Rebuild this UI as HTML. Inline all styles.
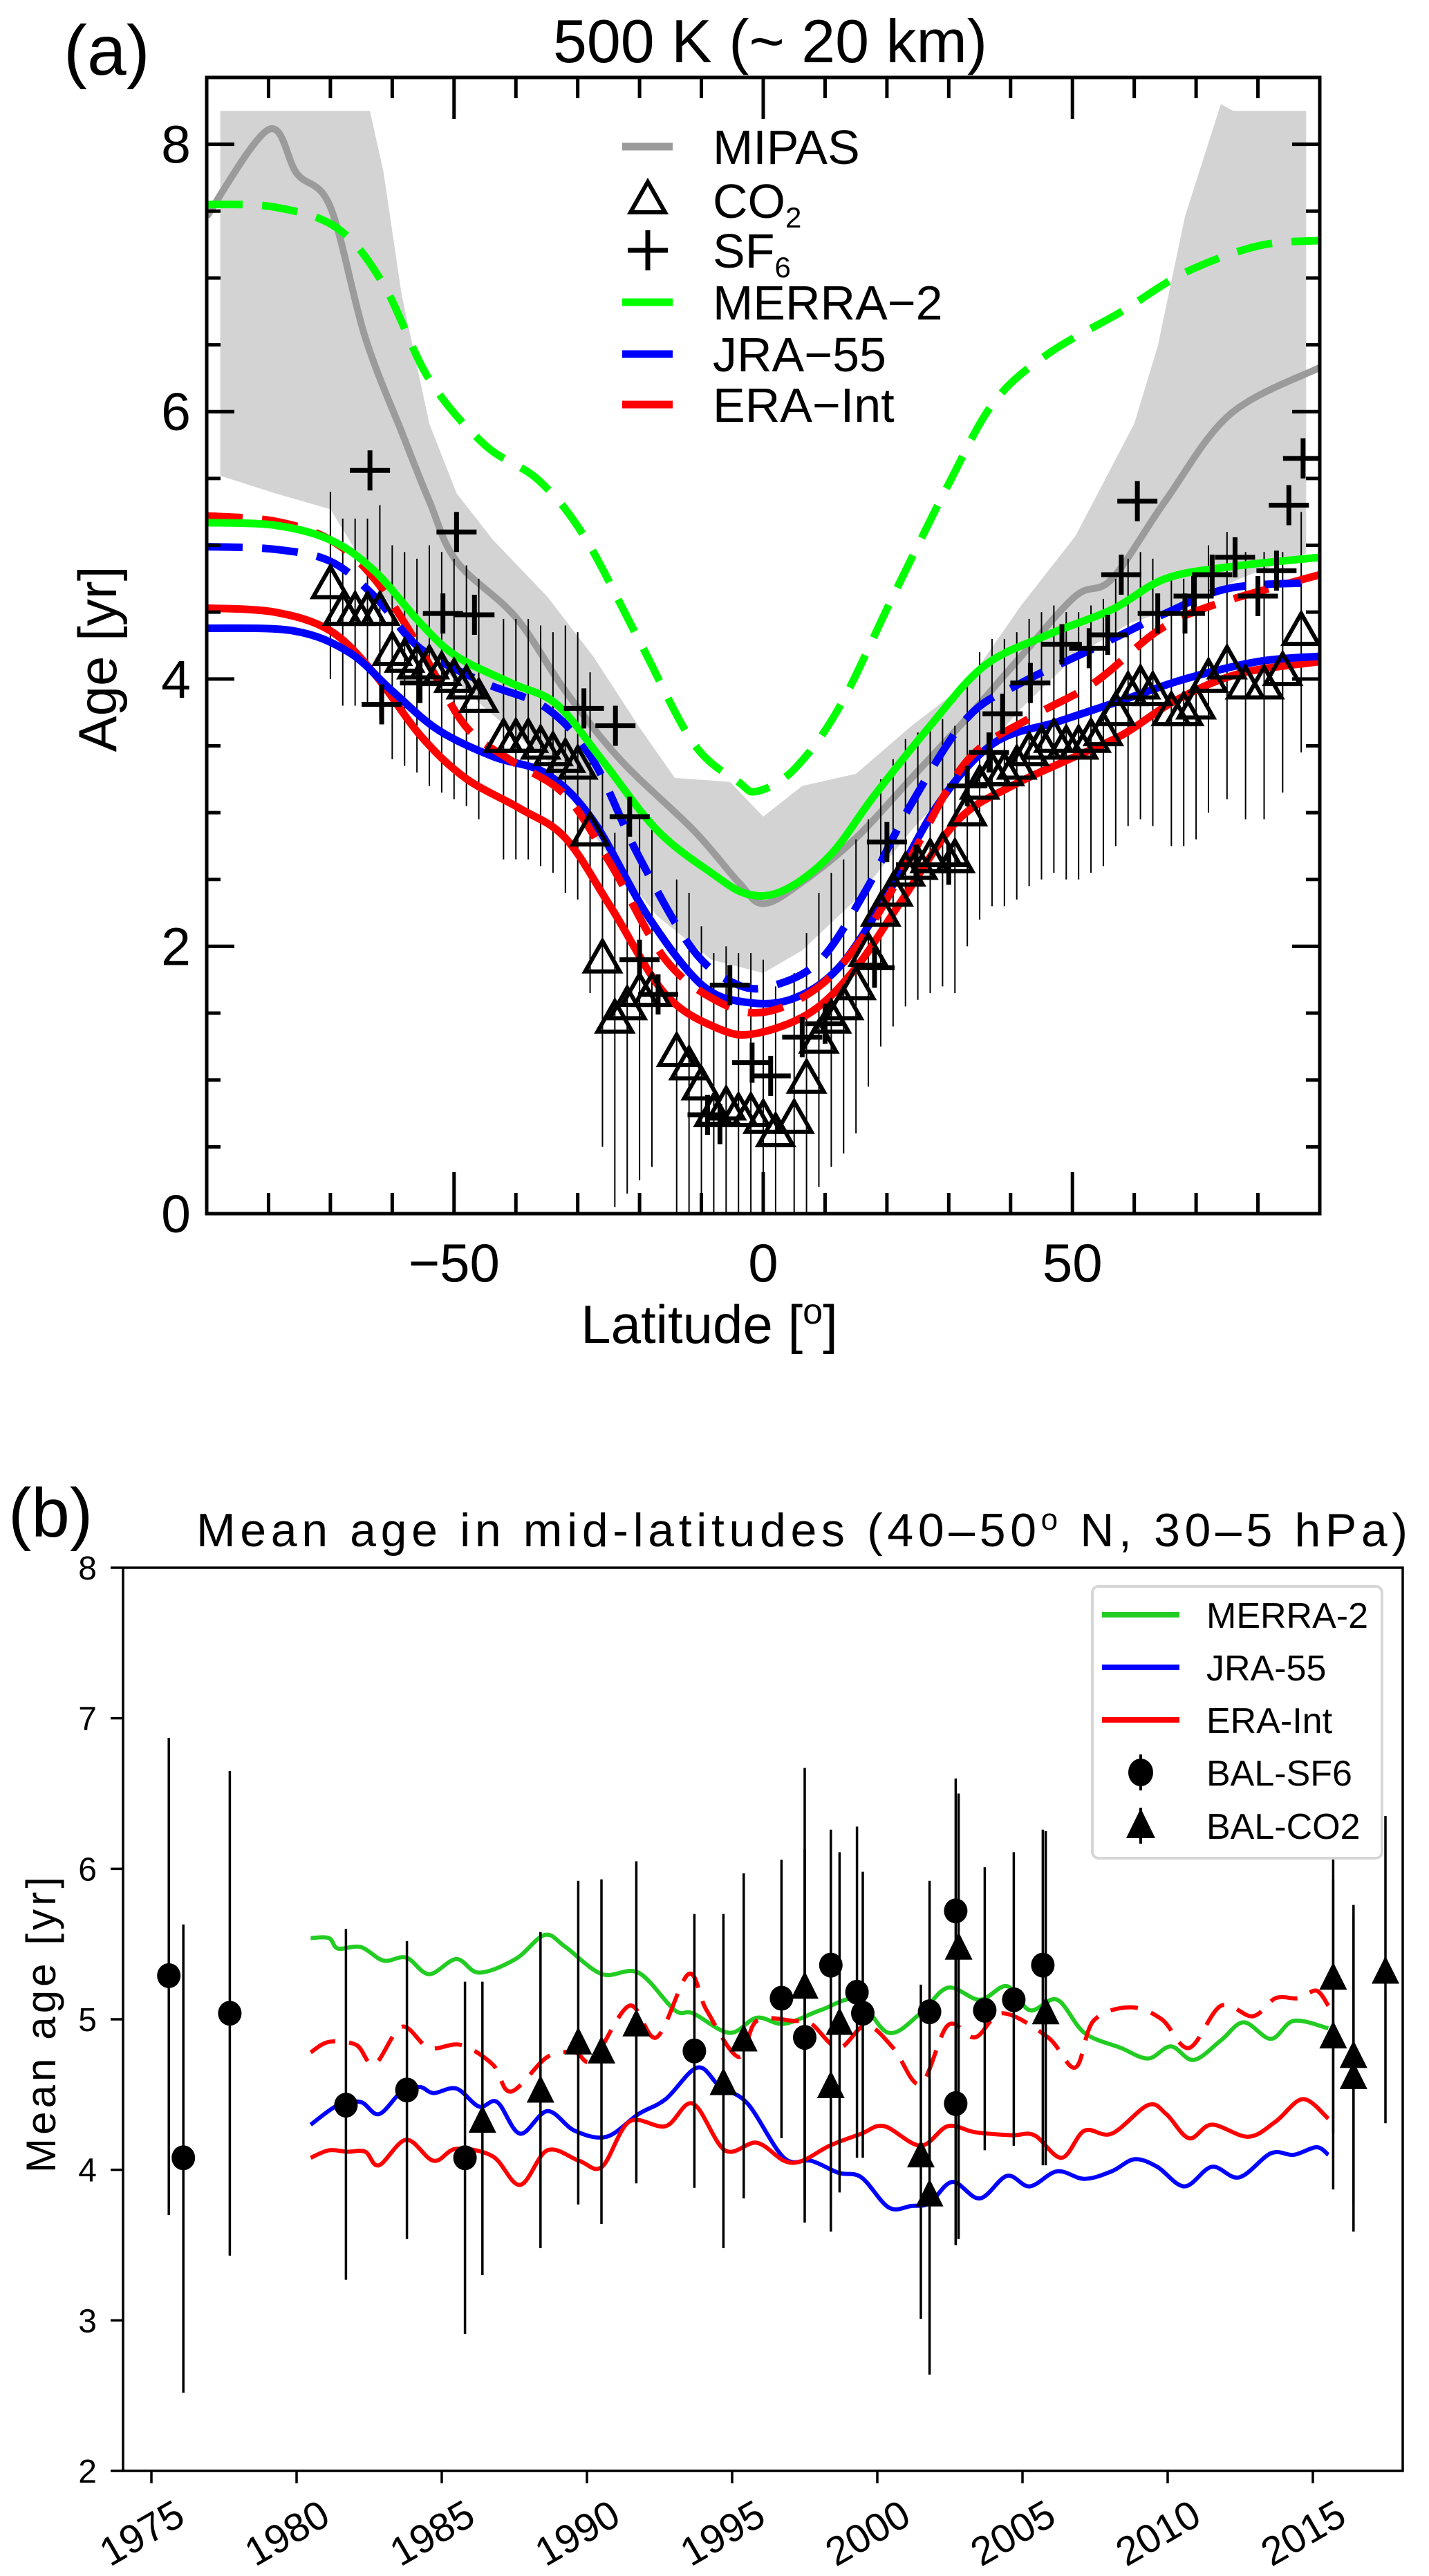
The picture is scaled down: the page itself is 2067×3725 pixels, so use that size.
<!DOCTYPE html>
<html><head><meta charset="utf-8"><style>
html,body{margin:0;padding:0;background:#fff;}
svg{display:block;font-family:"Liberation Sans",Arial,sans-serif;}
</style></head><body>
<svg id="fig" width="2067" height="3725" viewBox="0 0 2067 3725" xmlns="http://www.w3.org/2000/svg">
<g id="pa"></g>
<g id="pb"></g>
</svg>
<script>
// ===== Panel (a) data =====
const mipasLat=[-90,-80,-75.4,-70,-64.4,-58.5,-54,-49.6,-40,-32,-23,-11.3,-4,0,6.3,15,24,33,41.7,50.5,56.4,65,75.5,90];
const mipasAge=[7.46,8.11,7.78,7.53,6.56,5.85,5.33,4.88,4.46,3.91,3.39,2.87,2.48,2.32,2.48,2.81,3.26,3.71,4.17,4.62,4.75,5.33,5.98,6.33];
const bandUpLat=[-87.8,-63.6,-61.4,-58.5,-54,-49.6,-43.7,-35,-27.5,-20.2,-14.3,-5.4,0,6.3,15,24,33,41.7,50.5,60,63.8,68.2,74,76,87.8];
const bandUpAge=[8.25,8.25,7.79,6.88,5.91,5.39,5.04,4.62,4.17,3.65,3.26,3.23,2.97,3.2,3.29,3.65,3.97,4.55,5.07,5.91,6.49,7.46,8.3,8.25,8.25];
const bandLoLat=[-87.8,-79,-70,-61.4,-54,-45,-35,-26,-17.2,-8.4,0,6.3,15,24,33,41.7,50.5,59.4,68.2,77,87.8];
const bandLoAge=[5.52,5.39,5.27,4.62,4.17,3.78,3.39,2.74,2.23,1.9,1.8,1.97,2.35,2.87,3.32,3.78,4.17,4.42,4.55,4.75,4.94];
const merDashLat=[-90,-79,-68.8,-61.4,-54,-45,-36.4,-29,-20.2,-11.3,-4,-1,4.9,12.2,21,30,37.3,46,58,68.2,80,90];
const merDashAge=[7.55,7.53,7.37,6.95,6.24,5.75,5.49,5.07,4.3,3.52,3.23,3.16,3.32,3.78,4.62,5.46,6.07,6.43,6.75,7.04,7.24,7.28];
const merSolLat=[-90,-79,-70,-62.9,-55.5,-49.6,-40.8,-33.4,-26,-17.2,-8.4,-2.5,3.4,10.8,18,27,35.8,46,56.4,65,75.5,90];
const merSolAge=[5.17,5.15,5.04,4.81,4.42,4.17,3.97,3.81,3.39,2.87,2.55,2.39,2.42,2.68,3.13,3.65,4.1,4.33,4.52,4.75,4.84,4.91];
const jraDashLat=[-90,-79,-70,-62.9,-55.5,-45,-35,-27.5,-20.2,-11.3,-4,1.9,9.3,16.6,24,33,41.7,53.5,65,75.5,90];
const jraDashAge=[4.99,4.97,4.88,4.62,4.23,3.97,3.78,3.39,2.68,1.97,1.71,1.71,1.9,2.42,3.07,3.71,3.97,4.23,4.49,4.68,4.72];
const jraSolLat=[-90,-76,-67,-60,-52.6,-43.7,-35,-27.5,-18.7,-9.9,-2.5,4.9,12.2,19.6,28.4,37.3,47.6,58,68.2,80,90];
const jraSolAge=[4.38,4.36,4.2,3.91,3.62,3.42,3.29,2.94,2.23,1.71,1.58,1.61,1.84,2.35,3.07,3.52,3.68,3.84,4.0,4.13,4.17];
const eraDashLat=[-90,-79,-70,-62.9,-55.5,-48.2,-40.8,-32,-24.6,-15.8,-7,0.5,9.3,16.6,24,33,43.2,53.5,63.8,72.6,90];
const eraDashAge=[5.22,5.18,5.04,4.75,4.23,3.65,3.39,3.13,2.61,1.9,1.58,1.51,1.71,2.1,2.68,3.39,3.71,3.97,4.36,4.55,4.78];
const eraSolLat=[-90,-79,-70,-62.9,-55.5,-48.2,-39.3,-32,-24.6,-15.8,-7,-1,7.8,15,22.5,31.4,40.2,49,58,66.7,77,90];
const eraSolAge=[4.53,4.5,4.36,4.04,3.58,3.26,3.03,2.81,2.29,1.64,1.38,1.35,1.51,1.84,2.35,2.94,3.2,3.39,3.58,3.84,4.04,4.13];
const co2Lat=[-70,-68,-66,-64,-62,-60,-58,-56,-54,-52,-50,-48,-46,-42,-40,-38,-36,-34,-32,-30,-28,-26,-24,-22,-20,-18,-14,-12,-10,-8,-6,-4,-2,0,2,5,7,9,11,13,15,17,19,21,23,25,27,29,31,33,35,37,39,41,43,45,47,49,51,53,55,57,59,61,63,66,68,70,72,75,78,81,84,87];
const co2Age=[4.7,4.5,4.5,4.5,4.5,4.2,4.15,4.1,4.1,4.05,4.0,3.95,3.85,3.55,3.55,3.55,3.5,3.45,3.4,3.35,2.85,1.9,1.45,1.55,1.65,1.65,1.2,1.1,0.95,0.75,0.8,0.75,0.75,0.7,0.6,0.7,1.0,1.3,1.45,1.55,1.7,1.95,2.25,2.4,2.55,2.6,2.65,2.7,2.65,3.0,3.2,3.3,3.3,3.35,3.45,3.5,3.55,3.5,3.5,3.55,3.6,3.75,3.9,3.95,3.9,3.75,3.75,3.8,4.0,4.1,3.95,3.95,4.05,4.35];
const co2Err=[0.7,0.7,0.7,0.7,0.8,0.8,0.8,0.8,0.9,0.9,0.9,0.9,0.9,0.9,0.9,0.9,0.9,0.9,1.0,1.0,1.2,1.4,1.4,1.4,1.4,1.3,1.3,1.3,1.2,1.2,1.2,1.2,1.2,1.2,1.1,1.1,1.1,1.1,1.1,1.1,1.1,1.0,1.0,1.0,1.0,1.0,1.0,1.0,1.0,1.0,1.0,1.0,1.0,1.0,1.0,1.0,1.0,1.0,1.0,1.0,1.0,1.0,1.0,1.0,1.0,1.0,1.0,1.0,1.0,1.0,1.0,1.0,0.9,0.9];
const sf6Lat=[-63.6,-49.6,-51.8,-46.7,-61.7,-55.5,-29,-23.9,-21.6,-20,-17,-7,-9,-5.4,-1.8,1.2,6.3,10,18,20,24.7,30,33,36.5,38.7,43.2,48.3,52.7,55.7,57.9,60.5,63.8,68.2,69.6,72.6,76.3,80,85,87.3,83];
const sf6Age=[5.56,5.1,4.49,4.48,3.81,3.97,3.78,3.65,2.97,1.9,1.64,0.67,0.74,1.71,1.13,1.03,1.32,1.42,1.84,2.78,2.61,2.61,3.2,3.45,3.74,3.97,4.26,4.23,4.33,4.78,5.33,4.49,4.49,4.62,4.78,4.91,4.62,5.3,5.65,4.81];
const aYTicks=[0,2,4,6,8];
const aXTicks=[-50,0,50];

// ===== Panel (b) data =====
const merX=[340,360,370,395,420,445,470,500,525,565,597,620,660,700,740,760,800,830,860,900,940,975,1010,1040,1075,1105,1130,1160,1190,1230,1260,1285,1310,1340,1365,1395,1420,1458];
const merYears=merX.map(x=>1975+(x-165)/31.9);
const merVals=[5.54,5.54,5.47,5.48,5.39,5.41,5.30,5.40,5.31,5.40,5.56,5.48,5.30,5.31,5.06,5.04,4.91,5.01,4.97,5.06,5.13,4.91,5.04,5.21,5.13,5.22,5.06,5.13,4.91,4.81,4.74,4.82,4.73,4.86,4.98,4.87,4.99,4.94];
const jraX=[340,370,395,415,440,460,475,500,525,545,570,600,630,665,700,730,765,790,820,860,890,920,945,975,1000,1020,1045,1075,1105,1130,1160,1190,1220,1245,1270,1300,1330,1360,1395,1420,1445,1458];
const jraYears=jraX.map(x=>1975+(x-165)/31.9);
const jraVals=[4.30,4.43,4.45,4.37,4.52,4.55,4.51,4.54,4.42,4.45,4.24,4.39,4.26,4.22,4.37,4.47,4.68,4.55,4.44,4.08,4.06,3.98,3.95,3.75,3.76,3.78,3.92,3.81,3.96,3.89,3.99,3.94,3.99,4.07,4.02,3.89,4.02,3.95,4.11,4.10,4.15,4.10];
const eraX=[340,360,380,400,415,445,475,500,540,570,600,635,660,690,730,760,795,830,860,880,910,945,970,1010,1040,1070,1110,1135,1165,1190,1220,1260,1280,1305,1330,1370,1400,1430,1458];
const eraYears=eraX.map(x=>1975+(x-165)/31.9);
const eraVals=[4.08,4.13,4.12,4.12,4.03,4.20,4.06,4.14,4.09,3.90,4.13,4.06,4.02,4.32,4.29,4.44,4.13,4.18,4.06,4.06,4.16,4.24,4.29,4.16,4.29,4.25,4.23,4.23,4.08,4.26,4.24,4.43,4.37,4.21,4.30,4.22,4.32,4.47,4.34];
const eraDX=[340,360,390,410,440,470,505,540,560,600,630,650,690,720,755,775,810,830,870,890,920,950,980,1010,1040,1070,1100,1150,1180,1200,1240,1275,1305,1340,1375,1400,1425,1445,1458];
const eraDYears=eraDX.map(x=>1975+(x-165)/31.9);
const eraDVals=[4.78,4.85,4.83,4.70,4.95,4.81,4.83,4.70,4.52,4.75,4.78,4.73,5.09,4.88,5.30,5.06,4.75,4.99,4.99,4.97,4.81,4.96,4.81,4.57,4.96,4.88,5.04,4.88,4.68,4.99,5.08,5.00,4.81,5.09,5.02,5.14,5.14,5.19,5.09];
const sf6Years=[1975.6,1976.1,1977.7,1981.7,1983.8,1985.8,1993.7,1996.7,1997.5,1998.4,1999.3,1999.5,2001.8,2002.7,2002.7,2003.7,2004.7,2005.7];
const sf6Vals=[5.29,4.08,5.04,4.43,4.53,4.08,4.79,5.14,4.88,5.36,5.18,5.04,5.05,5.72,4.44,5.06,5.13,5.36];
const sf6Hi=[6.87,5.63,6.65,5.60,5.52,5.25,5.70,6.06,6.13,6.26,6.28,5.98,5.92,6.60,5.40,6.01,6.11,6.26];
const sf6Lo=[3.70,2.52,3.43,3.27,3.54,2.91,3.88,4.21,3.65,3.75,4.08,4.08,4.03,3.51,3.50,4.13,4.16,4.03];
const co2bYears=[1986.4,1988.4,1989.7,1990.5,1991.7,1994.7,1995.4,1997.5,1998.4,1998.7,2001.5,2001.8,2002.8,2005.8,2015.7,2015.7,2016.4,2016.4,2017.5];
const co2bVals=[4.32,4.52,4.84,4.78,4.96,4.57,4.86,5.21,4.55,4.97,4.09,3.83,5.47,5.04,5.27,4.88,4.75,4.61,5.31];
const co2bHi=[5.25,5.58,5.92,5.93,6.05,5.70,5.97,6.67,5.66,6.11,5.23,4.60,6.50,6.25,6.15,5.93,5.76,5.68,6.35];
const co2bLo=[3.30,3.48,3.77,3.64,3.91,3.48,3.81,3.80,3.59,3.85,3.01,2.64,3.54,4.03,3.87,4.24,3.77,3.59,4.31];
const bYTicks=[2,3,4,5,6,7,8];
const bXTicks=[1975,1980,1985,1990,1995,2000,2005,2010,2015];

const NS='http://www.w3.org/2000/svg';
function mk(parent,tag,attrs,text){const e=document.createElementNS(NS,tag);for(const k in attrs)e.setAttribute(k,attrs[k]);if(text!==undefined)e.textContent=text;parent.appendChild(e);return e;}
function smooth(pts){
  if(pts.length<2)return'';let d='M'+pts[0][0].toFixed(1)+','+pts[0][1].toFixed(1);
  for(let i=0;i<pts.length-1;i++){const p0=pts[Math.max(0,i-1)],p1=pts[i],p2=pts[i+1],p3=pts[Math.min(pts.length-1,i+2)];
  const c1=[p1[0]+(p2[0]-p0[0])/6,p1[1]+(p2[1]-p0[1])/6],c2=[p2[0]-(p3[0]-p1[0])/6,p2[1]-(p3[1]-p1[1])/6];
  d+='C'+c1[0].toFixed(1)+','+c1[1].toFixed(1)+' '+c2[0].toFixed(1)+','+c2[1].toFixed(1)+' '+p2[0].toFixed(1)+','+p2[1].toFixed(1);}
  return d;}

// ===== Panel a =====
const A={l:299,r:1909,t:112,b:1755};
const ax=v=>A.l+(v+90)/180*(A.r-A.l);
const ay=v=>A.b-v*(A.b-A.t)/8.5;
const pa=document.getElementById('pa');
const aClip=mk(pa,'clipPath',{id:'aclip'});mk(aClip,'rect',{x:A.l,y:A.t,width:A.r-A.l,height:A.b-A.t});
const aData=mk(pa,'g',{'clip-path':'url(#aclip)'});


let bandPts=bandUpLat.map((l,i)=>[ax(l),ay(bandUpAge[i])]);
let lo=bandLoLat.map((l,i)=>[ax(l),ay(bandLoAge[i])]).reverse();
let band=mk(aData,'polygon',{points:bandPts.concat(lo).map(p=>p.join(',')).join(' '),fill:'#d3d3d3'});


let mip=mk(aData,'path',{d:smooth(mipasLat.map((l,i)=>[ax(l),ay(mipasAge[i])])),fill:'none',stroke:'#9b9b9b','stroke-width':10});


const eg=mk(aData,'g',{stroke:'#000','stroke-width':2});


co2Lat.forEach((l,i)=>{mk(eg,'line',{x1:ax(l),x2:ax(l),y1:ay(co2Age[i]+co2Err[i]),y2:ay(Math.max(0,co2Age[i]-co2Err[i]))});});
function aCurve(lat,age,color,dash,name){const p=mk(aData,'path',{d:smooth(lat.map((l,i)=>[ax(l),ay(age[i])])),fill:'none',stroke:color,'stroke-width':11,'stroke-dasharray':dash?'52 28':'none'});

}
aCurve(merDashLat,merDashAge,'#00ff00',true,'merra2-dashed-line');
aCurve(eraSolLat,eraSolAge,'#ff0000',false,'era-int-solid-line');
aCurve(jraSolLat,jraSolAge,'#0000ff',false,'jra55-solid-line');
aCurve(eraDashLat,eraDashAge,'#ff0000',true,'era-int-dashed-line');
aCurve(jraDashLat,jraDashAge,'#0000ff',true,'jra55-dashed-line');
aCurve(merSolLat,merSolAge,'#00ff00',false,'merra2-solid-line');
const tg=mk(aData,'g',{fill:'none',stroke:'#000','stroke-width':6});


co2Lat.forEach((l,i)=>{const x=ax(l),y=ay(co2Age[i]);mk(tg,'polygon',{points:`${x},${y-27} ${x-25},${y+17} ${x+25},${y+17}`});});
const cg=mk(aData,'g',{fill:'none',stroke:'#000','stroke-width':7});


sf6Lat.forEach((l,i)=>{const x=ax(l),y=ay(sf6Age[i]);mk(cg,'path',{d:`M${x-29},${y}H${x+29}M${x},${y-29}V${y+29}`});});
const af=mk(pa,'g',{stroke:'#000','stroke-width':5,fill:'none'});


mk(af,'rect',{x:A.l,y:A.t,width:A.r-A.l,height:A.b-A.t});
for(let v=-80;v<=80;v+=10){const L=(v%50===0)?60:30;const x=ax(v);mk(af,'line',{x1:x,x2:x,y1:A.b,y2:A.b-L});mk(af,'line',{x1:x,x2:x,y1:A.t,y2:A.t+L});}
for(let v=0.5;v<8.5;v+=0.5){const L=(v%2===0)?40:20;const y=ay(v);mk(af,'line',{x1:A.l,x2:A.l+L,y1:y,y2:y});mk(af,'line',{x1:A.r,x2:A.r-L,y1:y,y2:y});}
aYTicks.forEach(v=>{const t=mk(pa,'text',{x:276,y:ay(v)+27,'font-size':77,'text-anchor':'end'},String(v));

});
aXTicks.forEach(v=>{const t=mk(pa,'text',{x:ax(v),y:1853,'font-size':78,'text-anchor':'middle'},(v<0?'\u2212':'')+Math.abs(v));

});
let t;
t=mk(pa,'text',{x:92,y:108,'font-size':102},'(a)');
t=mk(pa,'text',{x:1114,y:90,'font-size':88,'text-anchor':'middle',textLength:628,lengthAdjust:'spacingAndGlyphs'},'500 K (~ 20 km)');
t=mk(pa,'text',{x:1026,y:1942,'font-size':78,'text-anchor':'middle'});
t.innerHTML='Latitude [<tspan font-size="52" dy="-28">o</tspan><tspan dy="28">]</tspan>';
t=mk(pa,'text',{x:0,y:0,'font-size':78,'text-anchor':'middle',transform:'translate(168,953) rotate(-90)'},'Age [yr]');
const lg=mk(pa,'g',{});
const rows=[212,290,362,437,512,585];
mk(lg,'line',{x1:900,x2:973,y1:rows[0],y2:rows[0],stroke:'#9b9b9b','stroke-width':11});
{const x=937,y=rows[1];mk(lg,'polygon',{points:`${x},${y-27} ${x-25},${y+17} ${x+25},${y+17}`,fill:'none',stroke:'#000','stroke-width':6});}
{const x=937,y=rows[2];mk(lg,'path',{d:`M${x-29},${y}H${x+29}M${x},${y-29}V${y+29}`,stroke:'#000','stroke-width':7});}
mk(lg,'line',{x1:900,x2:973,y1:rows[3],y2:rows[3],stroke:'#00ff00','stroke-width':11});
mk(lg,'line',{x1:900,x2:973,y1:rows[4],y2:rows[4],stroke:'#0000ff','stroke-width':11});
mk(lg,'line',{x1:900,x2:973,y1:rows[5],y2:rows[5],stroke:'#ff0000','stroke-width':11});
const lt=['MIPAS','CO','SF','MERRA\u22122','JRA\u221255','ERA\u2212Int'];
lt.forEach((s,i)=>{const e=mk(lg,'text',{x:1031,y:rows[i]+25,'font-size':70},s);


if(i===1){mk(e,'tspan',{'font-size':42,dy:14},'2');}
if(i===2){mk(e,'tspan',{'font-size':42,dy:14},'6');}});

// ===== Panel b =====
const B={l:178,r:2029,t:2267,b:3573};
const bx=v=>219+(v-1975)*42;
const by=v=>B.b-(v-2)*(B.b-B.t)/6;
const pb=document.getElementById('pb');
const bClip=mk(pb,'clipPath',{id:'bclip'});mk(bClip,'rect',{x:B.l,y:B.t,width:B.r-B.l,height:B.b-B.t});
const bData=mk(pb,'g',{'clip-path':'url(#bclip)'});


function bLine(ys,vs,color,dash,name){const p=mk(bData,'path',{d:smooth(ys.map((y,i)=>[bx(y),by(vs[i])])),fill:'none',stroke:color,'stroke-width':6,'stroke-linejoin':'round','stroke-dasharray':dash?'40 20':'none'});

}
bLine(merYears,merVals,'#22cc22',false,'merra2-series');
bLine(jraYears,jraVals,'#0000ff',false,'jra55-series');
bLine(eraYears,eraVals,'#ff0000',false,'era-int-series');
bLine(eraDYears,eraDVals,'#ff0000',true,'era-int-dashed-series');
const sg=mk(bData,'g',{});
sf6Years.forEach((y,i)=>{const x=bx(y);mk(sg,'line',{x1:x,x2:x,y1:by(sf6Hi[i]),y2:by(sf6Lo[i]),stroke:'#000','stroke-width':3.5});mk(sg,'ellipse',{cx:x,cy:by(sf6Vals[i]),rx:17,ry:18,fill:'#000'});});
const cgb=mk(bData,'g',{});
co2bYears.forEach((y,i)=>{const x=bx(y),yy=by(co2bVals[i]);mk(cgb,'line',{x1:x,x2:x,y1:by(co2bHi[i]),y2:by(co2bLo[i]),stroke:'#000','stroke-width':3.5});mk(cgb,'polygon',{points:`${x},${yy-24} ${x-20},${yy+16} ${x+20},${yy+16}`,fill:'#000'});});
const bf=mk(pb,'g',{stroke:'#000','stroke-width':3.5,fill:'none'});


mk(bf,'rect',{x:B.l,y:B.t,width:B.r-B.l,height:B.b-B.t});
bYTicks.forEach(v=>{mk(bf,'line',{x1:B.l,x2:B.l-18,y1:by(v),y2:by(v)});const e=mk(pb,'text',{x:140,y:by(v)+17,'font-size':48,'text-anchor':'end'},String(v));

});
bXTicks.forEach(v=>{mk(bf,'line',{x1:bx(v),x2:bx(v),y1:B.b,y2:B.b+18});const e=mk(pb,'text',{x:0,y:0,'font-size':58,'text-anchor':'middle',transform:`translate(${bx(v)-4},${3680}) rotate(-30)`},String(v));

});
t=mk(pb,'text',{x:12,y:2222,'font-size':100},'(b)');
t=mk(pb,'text',{x:284,y:2236,'font-size':68,textLength:1752,lengthAdjust:'spacing'});
t.innerHTML='Mean age in mid-latitudes (40\u201350<tspan font-size="44" dy="-24">o</tspan><tspan dy="24"> N, 30\u20135 hPa)</tspan>';
t=mk(pb,'text',{x:0,y:0,'font-size':60,'text-anchor':'middle',textLength:428,lengthAdjust:'spacing',transform:'translate(80,2928) rotate(-90)'},'Mean age [yr]');
const lb=mk(pb,'g',{});
mk(lb,'rect',{x:1580,y:2294,width:419,height:393,rx:9,fill:'#fff',stroke:'#d6d6d6','stroke-width':4});
const br=[2335,2411,2487,2563,2640];
[['#22cc22','MERRA-2'],['#0000ff','JRA-55'],['#ff0000','ERA-Int']].forEach((c,i)=>{mk(lb,'line',{x1:1594,x2:1706,y1:br[i],y2:br[i],stroke:c[0],'stroke-width':8});});
mk(lb,'line',{x1:1650,x2:1650,y1:br[3]-26,y2:br[3]+26,stroke:'#000','stroke-width':4});mk(lb,'ellipse',{cx:1650,cy:br[3],rx:18,ry:20,fill:'#000'});
mk(lb,'line',{x1:1650,x2:1650,y1:br[4]-26,y2:br[4]+26,stroke:'#000','stroke-width':4});mk(lb,'polygon',{points:`1650,${br[4]-25} 1629,${br[4]+18} 1671,${br[4]+18}`,fill:'#000'});
['MERRA-2','JRA-55','ERA-Int','BAL-SF6','BAL-CO2'].forEach((s,i)=>{const e=mk(lb,'text',{x:1745,y:br[i]+19,'font-size':52},s);

});
</script>
</body></html>
